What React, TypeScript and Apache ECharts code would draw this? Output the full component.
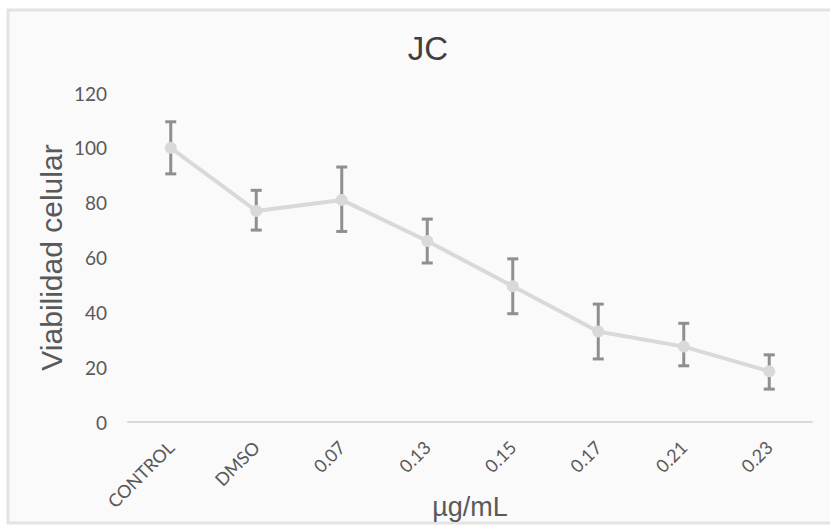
import React, { useEffect, useRef } from "react";
import * as echarts from "echarts";

const categories = ["CONTROL", "DMSO", "0.07", "0.13", "0.15", "0.17", "0.21", "0.23"];
const viability = [100, 77, 81, 66, 49.5, 33, 27.5, 18.5];
const errorLow = [90.5, 70, 69.5, 58, 39.5, 23, 20.5, 12];
const errorHigh = [109.5, 84.5, 93, 74, 59.5, 43, 36, 24.5];
const yTicks = [0, 20, 40, 60, 80, 100, 120];

export default function App() {
  const ref = useRef<HTMLDivElement>(null);
  useEffect(() => {
    if (!ref.current) return;
    const chart = echarts.init(ref.current, null, { renderer: "svg" });
    const errData = categories.map((_, i) => [i, errorLow[i], errorHigh[i]]);
    chart.setOption({
      animation: false,
      backgroundColor: "#ffffff",
      graphic: [
        {
          type: "rect",
          shape: { x: 8, y: 10, width: 840, height: 513 },
          style: { fill: "#fafafa", stroke: "#e3e3e3", lineWidth: 3 },
          z: -10,
          silent: true,
        },
      ],
      title: {
        text: "JC",
        left: 423,
        textAlign: "center",
        top: 27,
        textStyle: { fontFamily: "Liberation Sans", fontSize: 33, fontWeight: "normal", color: "#404040" },
      },
      grid: { left: 128, right: 18, top: 93, bottom: 103, containLabel: false, outerBoundsMode: "none" },
      xAxis: {
        type: "category",
        data: categories,
        boundaryGap: true,
        axisLine: { lineStyle: { color: "#d9d9d9", width: 2 } },
        axisTick: { show: false },
        axisLabel: {
          rotate: 45,
          color: "#595959",
          fontFamily: "Lato",
          fontSize: 18,
          margin: 22,
          interval: 0,
        },
        name: "µg/mL",
        nameLocation: "middle",
        nameGap: 71,
        nameMoveOverlap: false,
        nameTextStyle: { fontFamily: "Liberation Sans", fontSize: 27, color: "#595959" },
      },
      yAxis: {
        type: "value",
        min: 0,
        max: 120,
        interval: 20,
        splitLine: { show: false },
        axisLine: { show: false },
        axisTick: { show: false },
        axisLabel: {
          color: "#595959",
          fontFamily: "Lato",
          fontSize: 19,
          margin: 21,
          formatter: (v: number) => (yTicks.includes(v) ? String(v) : ""),
        },
        name: "Viabilidad celular",
        nameLocation: "middle",
        nameGap: 62,
        nameMoveOverlap: false,
        nameTextStyle: { fontFamily: "Liberation Sans", fontSize: 30, color: "#595959" },
      },
      series: [
        {
          type: "custom",
          data: errData,
          z: 1,
          renderItem: (params: any, api: any) => {
            const x = api.value(0);
            const lo = api.coord([x, api.value(1)]);
            const hi = api.coord([x, api.value(2)]);
            const cw = 5.5;
            const st = { stroke: "#8f8f8f", lineWidth: 3, fill: "none" };
            return {
              type: "group",
              children: [
                { type: "line", shape: { x1: hi[0], y1: hi[1], x2: lo[0], y2: lo[1] }, style: st },
                { type: "line", shape: { x1: hi[0] - cw, y1: hi[1], x2: hi[0] + cw, y2: hi[1] }, style: st },
                { type: "line", shape: { x1: lo[0] - cw, y1: lo[1], x2: lo[0] + cw, y2: lo[1] }, style: st },
              ],
            };
          },
        },
        {
          type: "line",
          data: viability,
          z: 3,
          symbol: "circle",
          symbolSize: 12,
          lineStyle: { color: "#d9d9d9", width: 4 },
          itemStyle: { color: "#d9d9d9" },
        },
      ],
    });
    return () => chart.dispose();
  }, []);
  return <div ref={ref} style={{ width: 830, height: 525, position: "absolute", left: 0, top: 0 }} />;
}
